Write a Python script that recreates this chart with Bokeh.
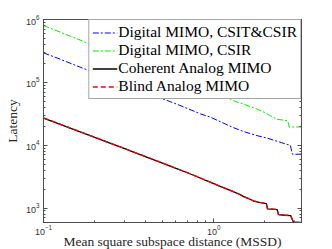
from bokeh.plotting import figure
from bokeh.models import (Legend, LegendItem, LogAxis, FixedTicker, Range1d)
from bokeh.embed import file_html
from bokeh.resources import INLINE

# ---- data ----
mssd_dig = [0.1, 0.12, 0.15, 0.2, 0.25, 0.3, 0.4, 0.5, 0.6, 0.7, 0.836, 0.956, 1.1, 1.31,
            1.5, 1.8, 2.06, 2.3, 2.5, 2.7, 2.82, 2.9, 3.28]
lat_csit = [294000, 245000, 192000, 142000, 112000, 93000, 69000, 55000, 45500, 38500,
            31500, 28000, 23500, 19000, 16500, 14200, 13000, 11800, 11000, 10300, 10000,
            7200, 7200]

mssd_csir = [0.1, 0.12, 0.15, 0.2, 0.25, 0.3, 0.4, 0.5, 0.6, 0.7, 0.836, 0.956, 1.1, 1.31,
             1.5, 1.8, 2.0, 2.16, 2.36, 2.58, 2.72, 2.78, 3.28]
lat_csir = [800000, 660000, 520000, 378000, 300000, 250000, 186000, 148000, 123000, 105000,
            88000, 78000, 65000, 50800, 45000, 37400, 33000, 29300, 25900, 25000, 24500,
            19500, 19500]

mssd_ana = [0.1, 0.12, 0.15, 0.2, 0.25, 0.3, 0.35, 0.4, 0.5, 0.6, 0.7, 0.8, 0.9, 1.0, 1.1,
            1.2, 1.3, 1.4, 1.5, 1.6, 1.72, 1.85, 2.04, 2.07, 2.2, 2.36, 2.4, 2.6, 2.83, 2.95,
            3.28]
lat_coh = [26900, 22400, 17900, 13300, 10600, 8800, 7500, 6550, 5200, 4300, 3650, 3150,
           2750, 2450, 2200, 2000, 1830, 1680, 1520, 1420, 1290, 1230, 1180, 970, 960, 947,
           790, 770, 760, 590, 590]
lat_blind = [27300, 22600, 18000, 13400, 10700, 8850, 7550, 6600, 5230, 4320, 3670, 3170,
             2770, 2460, 2210, 2010, 1840, 1690, 1530, 1430, 1300, 1240, 1185, 975, 965, 950,
             795, 775, 765, 590, 590]

x_major = [0.1, 1.0]
x_minor = [0.2, 0.3, 0.4, 0.5, 0.6, 0.7, 0.8, 0.9, 2.0, 3.0]
y_major = [1e3, 1e4, 1e5, 1e6]
y_minor = [m * d for d in [1e2, 1e3, 1e4, 1e5] for m in range(2, 10)]

legend_labels = ["Digital MIMO, CSIT&CSIR", "Digital MIMO, CSIR",
                 "Coherent Analog MIMO", "Blind Analog MIMO"]

SERIF = "Liberation Serif"
SANS = "Liberation Sans"
AX = "#4d4d4d"

p = figure(output_backend="svg", toolbar_location=None,
           x_axis_type="log", y_axis_type="log",
           x_range=Range1d(0.1, 3.28), y_range=Range1d(590, 1e6),
           frame_width=258, frame_height=203,
           min_border_left=43, min_border_right=31, min_border_top=19, min_border_bottom=27)
p.grid.visible = False
p.background_fill_color = "white"
p.border_fill_color = "white"
p.outline_line_color = AX

r1 = p.line(mssd_dig, lat_csit, line_color="#0000ff", line_width=1, line_dash="6 2 2 2")
r2 = p.line(mssd_csir, lat_csir, line_color="#00ee00", line_width=1, line_dash="6 2 2 2")
r3 = p.line(mssd_ana, lat_coh, line_color="black", line_width=1.3)
r4 = p.line(mssd_ana, lat_blind, line_color="#ff0000", line_width=1.3, line_dash="5 3")


def style(ax):
    ax.axis_line_color = AX
    ax.major_tick_line_color = AX
    ax.minor_tick_line_color = AX
    ax.major_tick_in = 4
    ax.major_tick_out = 0
    ax.minor_tick_in = 2
    ax.minor_tick_out = 0
    ax.major_label_text_font = SANS
    ax.major_label_text_font_size = "9px"
    ax.major_label_text_color = "#333333"
    ax.axis_label_text_font = SERIF
    ax.axis_label_text_font_size = "13.5px"
    ax.axis_label_text_font_style = "normal"
    ax.axis_label_text_color = "#262626"


p.xaxis.ticker = FixedTicker(ticks=x_major, minor_ticks=x_minor)
p.yaxis.ticker = FixedTicker(ticks=y_major, minor_ticks=y_minor)
p.xaxis.axis_label = "Mean square subspace distance (MSSD)"
p.yaxis.axis_label = "Latency"
style(p.xaxis[0])
style(p.yaxis[0])
p.xaxis.major_label_standoff = 2
p.xaxis.axis_label_standoff = -4
p.yaxis.major_label_standoff = 4
p.yaxis.axis_label_standoff = 3

top = LogAxis(ticker=FixedTicker(ticks=x_major, minor_ticks=x_minor))
right = LogAxis(ticker=FixedTicker(ticks=y_major, minor_ticks=y_minor))
style(top)
style(right)
for ax in (top, right):
    ax.major_label_text_alpha = 0
    ax.major_label_text_font_size = "1px"
    ax.major_label_standoff = 0
p.add_layout(top, "above")
p.add_layout(right, "right")

legend = Legend(items=[LegendItem(label=legend_labels[0], renderers=[r1]),
                       LegendItem(label=legend_labels[1], renderers=[r2]),
                       LegendItem(label=legend_labels[2], renderers=[r3]),
                       LegendItem(label=legend_labels[3], renderers=[r4])],
                location="top_right", margin=0, padding=3, spacing=0,
                label_height=15, glyph_height=15, glyph_width=25, label_standoff=1,
                label_text_font=SERIF, label_text_font_size="15.5px",
                label_text_color="black",
                border_line_color=AX, background_fill_color="white",
                background_fill_alpha=1.0)
p.add_layout(legend, "center")

open("out.html", "w").write(file_html(p, INLINE))
